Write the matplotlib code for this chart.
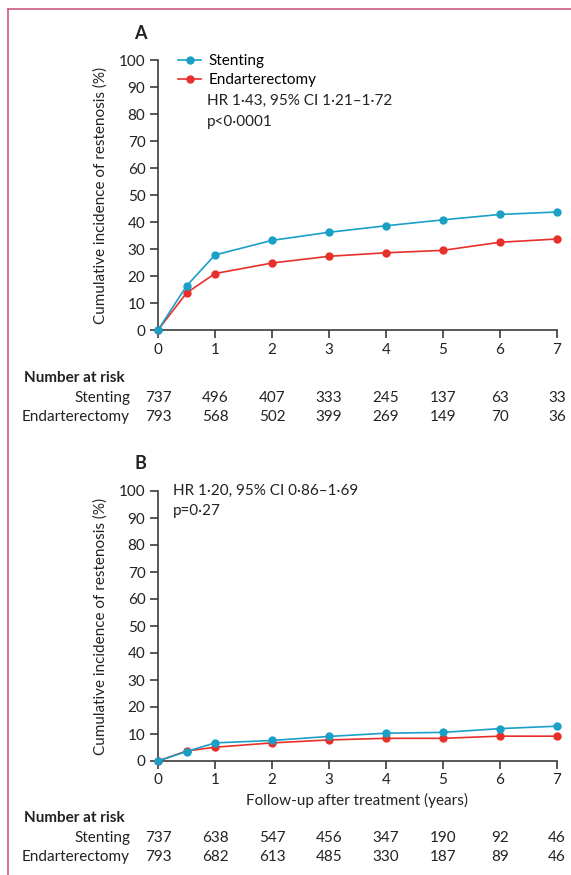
import numpy as np
import matplotlib.pyplot as plt
import matplotlib.transforms as mtransforms
from matplotlib.lines import Line2D

plt.rcParams['font.family'] = ['Lato', 'DejaVu Sans']

years = [0, 0.5, 1, 2, 3, 4, 5, 6, 7]
xticks = [0, 1, 2, 3, 4, 5, 6, 7]

# panel A
stent_a = [0, 16.3, 27.8, 33.2, 36.2, 38.6, 40.8, 42.8, 43.7]
endart_a = [0, 13.7, 20.9, 24.8, 27.3, 28.6, 29.5, 32.5, 33.7]
risk_stent_a = [737, 496, 407, 333, 245, 137, 63, 33]
risk_endart_a = [793, 568, 502, 399, 269, 149, 70, 36]

# panel B
stent_b = [0, 3.5, 6.7, 7.6, 9.1, 10.3, 10.6, 12.0, 12.9]
endart_b = [0, 3.7, 5.1, 6.7, 7.8, 8.4, 8.4, 9.2, 9.2]
risk_stent_b = [737, 638, 547, 456, 347, 190, 92, 46]
risk_endart_b = [793, 682, 613, 485, 330, 187, 89, 46]

c_stent = '#1a9fc6'
c_endart = '#e8302a'
c_axis = '#3c3c3c'
c_text = '#222222'
fs = 11

W, H = 571, 875
fig = plt.figure(figsize=(W / 100, H / 100), dpi=100)


def px_ax(l, r, t, b):
    return fig.add_axes([l / W, 1 - b / H, (r - l) / W, (b - t) / H])


def draw_panel(ax, s, e):
    ax.plot(years, s, color=c_stent, lw=1.2, marker='o', ms=5, zorder=3,
            clip_on=False)
    ax.plot(years, e, color=c_endart, lw=1.2, marker='o', ms=5, zorder=2,
            clip_on=False)
    ax.set_xlim(0, 7)
    ax.set_ylim(0, 100)
    ax.set_xticks(xticks)
    ax.set_yticks(np.arange(0, 101, 10))
    for sp in ['top', 'right']:
        ax.spines[sp].set_visible(False)
    for sp in ['left', 'bottom']:
        ax.spines[sp].set_color(c_axis)
        ax.spines[sp].set_linewidth(1.2)
    ax.tick_params(direction='out', length=6, width=1.2, color=c_axis,
                   labelsize=fs, labelcolor=c_text, pad=3)
    ax.set_ylabel('Cumulative incidence of restenosis (%)', fontsize=fs,
                  color=c_text, labelpad=8)


def risk_table(ax, rs, re, y0):
    tr = mtransforms.blended_transform_factory(ax.transData, fig.transFigure)
    fig.text(24 / W, 1 - y0 / H, 'Number at risk', fontsize=fs,
             fontweight='bold', color=c_text, va='center', ha='left')
    fig.text(130 / W, 1 - (y0 + 20) / H, 'Stenting', fontsize=fs,
             color=c_text, va='center', ha='right')
    fig.text(130 / W, 1 - (y0 + 39) / H, 'Endarterectomy', fontsize=fs,
             color=c_text, va='center', ha='right')
    for x, a, b in zip(xticks, rs, re):
        ax.text(x, 1 - (y0 + 20) / H, str(a), transform=tr, fontsize=fs,
                color=c_text, ha='center', va='center')
        ax.text(x, 1 - (y0 + 39) / H, str(b), transform=tr, fontsize=fs,
                color=c_text, ha='center', va='center')


ax_a = px_ax(158, 557, 60, 330)
draw_panel(ax_a, stent_a, endart_a)
ax_a.set_xlabel(' ')
ax_a.text(-0.045, 1.1, 'A', transform=ax_a.transAxes, fontsize=13,
          fontweight='bold', color=c_text, ha='center', va='center')
ax_a.legend(handles=[Line2D([], [], color=c_stent, lw=1.2, marker='o', ms=5),
                     Line2D([], [], color=c_endart, lw=1.2, marker='o', ms=5)],
            labels=['Stenting', 'Endarterectomy'], loc='upper left',
            bbox_to_anchor=(0.035, 1.045), frameon=False, fontsize=fs,
            handlelength=1.5, handletextpad=0.5, labelspacing=0.35,
            borderaxespad=0)
ax_a.text(207 / W, 1 - 101 / H, 'HR 1·43, 95% CI 1·21–1·72',
          transform=fig.transFigure, fontsize=fs, color=c_text, va='center')
ax_a.text(207 / W, 1 - 122 / H, 'p<0·0001', transform=fig.transFigure,
          fontsize=fs, color=c_text, va='center')
risk_table(ax_a, risk_stent_a, risk_endart_a, 378)

ax_b = px_ax(158, 557, 491, 761)
draw_panel(ax_b, stent_b, endart_b)
ax_b.set_xlabel('Follow-up after treatment (years)', fontsize=fs,
                color=c_text, labelpad=4)
ax_b.text(-0.045, 1.1, 'B', transform=ax_b.transAxes, fontsize=13,
          fontweight='bold', color=c_text, ha='center', va='center')
ax_b.text(173 / W, 1 - 491 / H, 'HR 1·20, 95% CI 0·86–1·69',
          transform=fig.transFigure, fontsize=fs, color=c_text, va='center')
ax_b.text(173 / W, 1 - 511 / H, 'p=0·27', transform=fig.transFigure,
          fontsize=fs, color=c_text, va='center')
risk_table(ax_b, risk_stent_b, risk_endart_b, 818)

# frame lines at top and left
c_frame = '#cc5b7a'
fig.add_artist(Line2D([8 / W, 8 / W], [0, 1 - 9 / H], color=c_frame, lw=1.2,
                      transform=fig.transFigure))
fig.add_artist(Line2D([8 / W, 1], [1 - 9 / H, 1 - 9 / H], color=c_frame,
                      lw=1.2, transform=fig.transFigure))

plt.savefig('out.png', dpi=100)
